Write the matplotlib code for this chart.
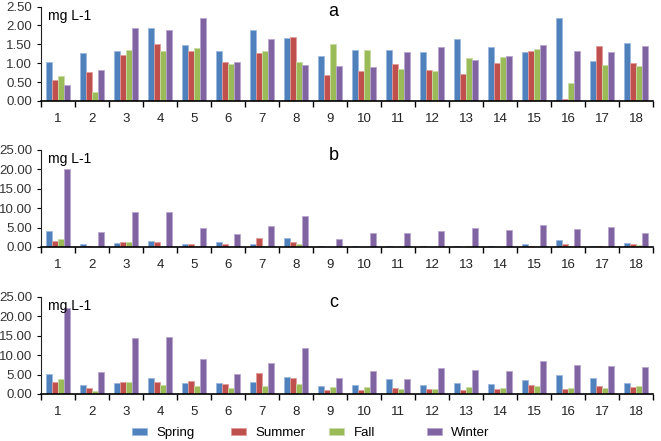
import matplotlib
matplotlib.use('Agg')
import matplotlib.pyplot as plt
import numpy as np
from matplotlib.ticker import FormatStrFormatter

plt.rcParams['font.family'] = ['Liberation Sans', 'DejaVu Sans']

sites = [str(i) for i in range(1, 19)]
seasons = ['Spring', 'Summer', 'Fall', 'Winter']
colors = ['#4F81BD', '#C0504D', '#9BBB59', '#8064A2']
edges = ['#9DB9DE', '#E09C9A', '#C9DDA4', '#B8A6CF']

# panel a
a_spring = [1.02, 1.27, 1.33, 1.93, 1.47, 1.32, 1.87, 1.66, 1.18, 1.34, 1.34, 1.29, 1.64, 1.43, 1.29, 2.21, 1.07, 1.54]
a_summer = [0.55, 0.78, 1.21, 1.50, 1.32, 1.02, 1.27, 1.69, 0.69, 0.80, 0.98, 0.82, 0.72, 1.01, 1.33, 0.06, 1.45, 1.01]
a_fall = [0.66, 0.23, 1.35, 1.32, 1.41, 0.98, 1.32, 1.03, 1.52, 1.35, 0.85, 0.80, 1.13, 1.16, 1.38, 0.47, 0.95, 0.92]
a_winter = [0.43, 0.82, 1.93, 1.88, 2.20, 1.03, 1.65, 0.96, 0.94, 0.89, 1.29, 1.42, 1.08, 1.18, 1.48, 1.32, 1.31, 1.45]

# panel b
b_spring = [4.05, 0.78, 1.03, 1.47, 0.78, 1.20, 0.78, 2.41, 0.25, 0.35, 0.25, 0.35, 0.35, 0.35, 0.86, 1.72, 0.35, 1.12]
b_summer = [1.64, 0.30, 1.29, 1.20, 0.86, 0.86, 2.41, 1.38, 0.05, 0.10, 0.10, 0.05, 0.05, 0.05, 0.30, 0.78, 0.30, 0.78]
b_fall = [2.07, 0.05, 1.20, 0.35, 0.25, 0.05, 0.25, 0.86, 0.05, 0.05, 0.05, 0.05, 0.15, 0.05, 0.10, 0.30, 0.05, 0.60]
b_winter = [20.0, 3.97, 8.90, 8.90, 5.00, 3.28, 5.34, 7.93, 1.98, 3.71, 3.71, 4.22, 4.83, 4.40, 5.69, 4.74, 5.26, 3.53]

# panel c
c_spring = [5.15, 2.32, 2.92, 4.12, 2.75, 2.92, 3.09, 4.47, 2.15, 2.40, 3.87, 2.32, 2.92, 2.66, 3.61, 4.81, 4.04, 2.92]
c_summer = [3.00, 1.46, 3.18, 3.18, 3.35, 2.58, 5.50, 4.12, 1.03, 1.12, 1.46, 1.29, 1.12, 1.37, 2.40, 1.29, 2.06, 1.89]
c_fall = [3.87, 0.77, 3.09, 2.32, 2.06, 1.46, 2.15, 2.49, 1.89, 1.80, 1.20, 1.20, 1.72, 1.63, 2.06, 1.46, 1.63, 1.98]
c_winter = [22.2, 5.76, 14.35, 14.6, 8.93, 5.15, 7.99, 11.86, 4.20, 5.93, 3.87, 6.70, 6.27, 6.01, 8.59, 7.47, 7.30, 6.96]

panels = [
    ('a', [a_spring, a_summer, a_fall, a_winter], 2.5, 0.5),
    ('b', [b_spring, b_summer, b_fall, b_winter], 25, 5),
    ('c', [c_spring, c_summer, c_fall, c_winter], 25, 5),
]
# axes positions [left, bottom, width, height]
positions = [
    [0.062, 0.771, 0.926, 0.214],
    [0.062, 0.440, 0.926, 0.220],
    [0.062, 0.1066, 0.926, 0.220],
]

fig = plt.figure(figsize=(6.61, 4.41), dpi=100)
x = np.arange(1, len(sites) + 1)
bw = 0.18
handles = []

for (letter, series, ymax, step), pos in zip(panels, positions):
    ax = fig.add_axes(pos)
    for i, (vals, c, ec) in enumerate(zip(series, colors, edges)):
        b = ax.bar(x + (i - 1.5) * bw, vals, width=bw, color=c,
                   edgecolor=ec, linewidth=0.6, label=seasons[i])
        if letter == 'a':
            handles.append(b)
    ax.set_xlim(0.5, len(sites) + 0.5)
    ax.set_ylim(0, ymax)
    ax.set_yticks(np.arange(0, ymax + step / 2, step))
    ax.yaxis.set_major_formatter(FormatStrFormatter('%.2f'))
    ax.set_xticks(x)
    ax.set_xticklabels(sites)
    ax.set_xticks(np.arange(0.5, len(sites) + 1, 1), minor=True)
    ax.tick_params(axis='x', which='major', length=0, pad=9, labelsize=9.5, colors='#222222')
    ax.tick_params(axis='x', which='minor', length=4, width=1, color='black')
    ax.tick_params(axis='y', length=3, labelsize=9.5, labelcolor='#333333')
    for s in ['top', 'right']:
        ax.spines[s].set_visible(False)
    ax.spines['left'].set_color('#222222')
    ax.spines['bottom'].set_color('black')
    ax.spines['bottom'].set_linewidth(1.2)
    ax.text(0.012, 0.98, 'mg L-1', transform=ax.transAxes, ha='left', va='top',
            fontsize=10, zorder=5)
    ax.text(0.478, 1.035, letter, transform=ax.transAxes, ha='center', va='top', fontsize=13)

# Excel-style legend: fixed column widths
legend_x = [0.200, 0.350, 0.498, 0.646]
for h, name, lx in zip(handles, seasons, legend_x):
    fig.legend([h], [name], loc='center left', bbox_to_anchor=(lx, 0.018),
               frameon=False, fontsize=9.5, handlelength=1.1, handleheight=0.45,
               handletextpad=0.75, borderpad=0, borderaxespad=0)

plt.savefig('out.png', dpi=100)
